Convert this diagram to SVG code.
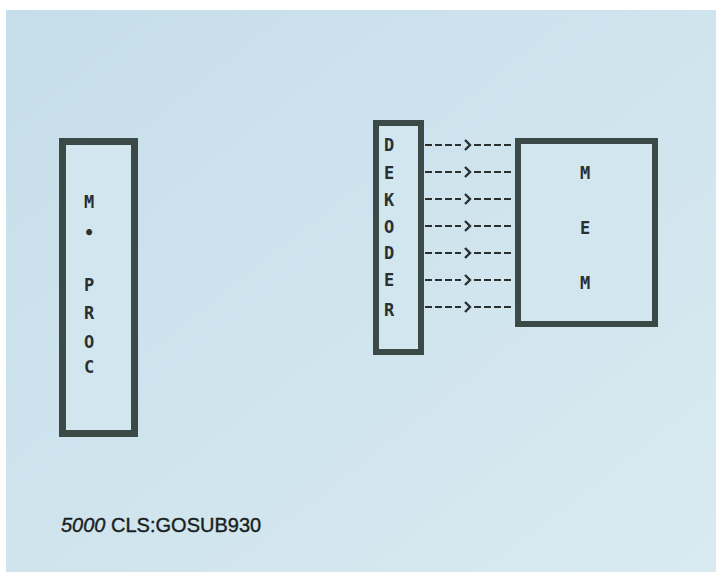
<svg xmlns="http://www.w3.org/2000/svg" width="716" height="572" viewBox="0 0 716 572">
<defs>
<linearGradient id="bg" x1="0" y1="0" x2="1" y2="1">
<stop offset="0" stop-color="#c6deea"/>
<stop offset="1" stop-color="#d9eaf1"/>
</linearGradient>
<style>
.box{fill:#d2e6ef;stroke:#3b4a47;stroke-width:6}
.lt{font-family:"DejaVu Sans Mono","Liberation Mono",monospace;font-size:17px;font-weight:bold;fill:#2a2f2f;text-anchor:middle}
.dash{stroke:#2a2f2f;stroke-width:2;stroke-dasharray:7 3;fill:none}
.chev{stroke:#2a2f2f;stroke-width:2.4;fill:none}
</style>
</defs>
<rect width="716" height="572" fill="#ffffff"/>
<rect x="6" y="10" width="710" height="562" fill="url(#bg)"/>
<g id="mproc">
<rect class="box" x="62.5" y="141.5" width="72" height="292" style="stroke-width:7"/>
<text class="lt" x="89" y="208">M</text>
<text class="lt" x="89" y="239">•</text>
<text class="lt" x="89" y="291">P</text>
<text class="lt" x="89" y="319">R</text>
<text class="lt" x="89" y="348">O</text>
<text class="lt" x="89" y="373">C</text>
</g>
<g id="dekoder">
<rect class="box" x="376" y="123" width="45" height="229"/>
<text class="lt" x="389" y="151">D</text>
<text class="lt" x="389" y="179">E</text>
<text class="lt" x="389" y="206">K</text>
<text class="lt" x="389" y="233">O</text>
<text class="lt" x="389" y="259">D</text>
<text class="lt" x="389" y="286">E</text>
<text class="lt" x="389" y="316">R</text>
</g>
<g id="mem">
<rect class="box" x="518" y="141" width="137" height="183"/>
<text class="lt" x="585" y="179">M</text>
<text class="lt" x="585" y="234">E</text>
<text class="lt" x="585" y="289">M</text>
</g>
<g id="connectors">
<g transform="translate(0,145)"><path class="dash" d="M425 0H461M474 0H514"/><path class="chev" d="M465 -5L470 0L465 5"/></g>
<g transform="translate(0,172)"><path class="dash" d="M425 0H461M474 0H514"/><path class="chev" d="M465 -5L470 0L465 5"/></g>
<g transform="translate(0,199)"><path class="dash" d="M425 0H461M474 0H514"/><path class="chev" d="M465 -5L470 0L465 5"/></g>
<g transform="translate(0,226)"><path class="dash" d="M425 0H461M474 0H514"/><path class="chev" d="M465 -5L470 0L465 5"/></g>
<g transform="translate(0,253)"><path class="dash" d="M425 0H461M474 0H514"/><path class="chev" d="M465 -5L470 0L465 5"/></g>
<g transform="translate(0,280)"><path class="dash" d="M425 0H461M474 0H514"/><path class="chev" d="M465 -5L470 0L465 5"/></g>
<g transform="translate(0,307)"><path class="dash" d="M425 0H461M474 0H514"/><path class="chev" d="M465 -5L470 0L465 5"/></g>
</g>
<text x="61" y="532" font-family="Liberation Sans, Arial, sans-serif" font-size="20" fill="#1a1e1e" stroke="#1a1e1e" stroke-width="0.4"><tspan font-style="italic">5000</tspan> CLS:GOSUB930</text>
</svg>
